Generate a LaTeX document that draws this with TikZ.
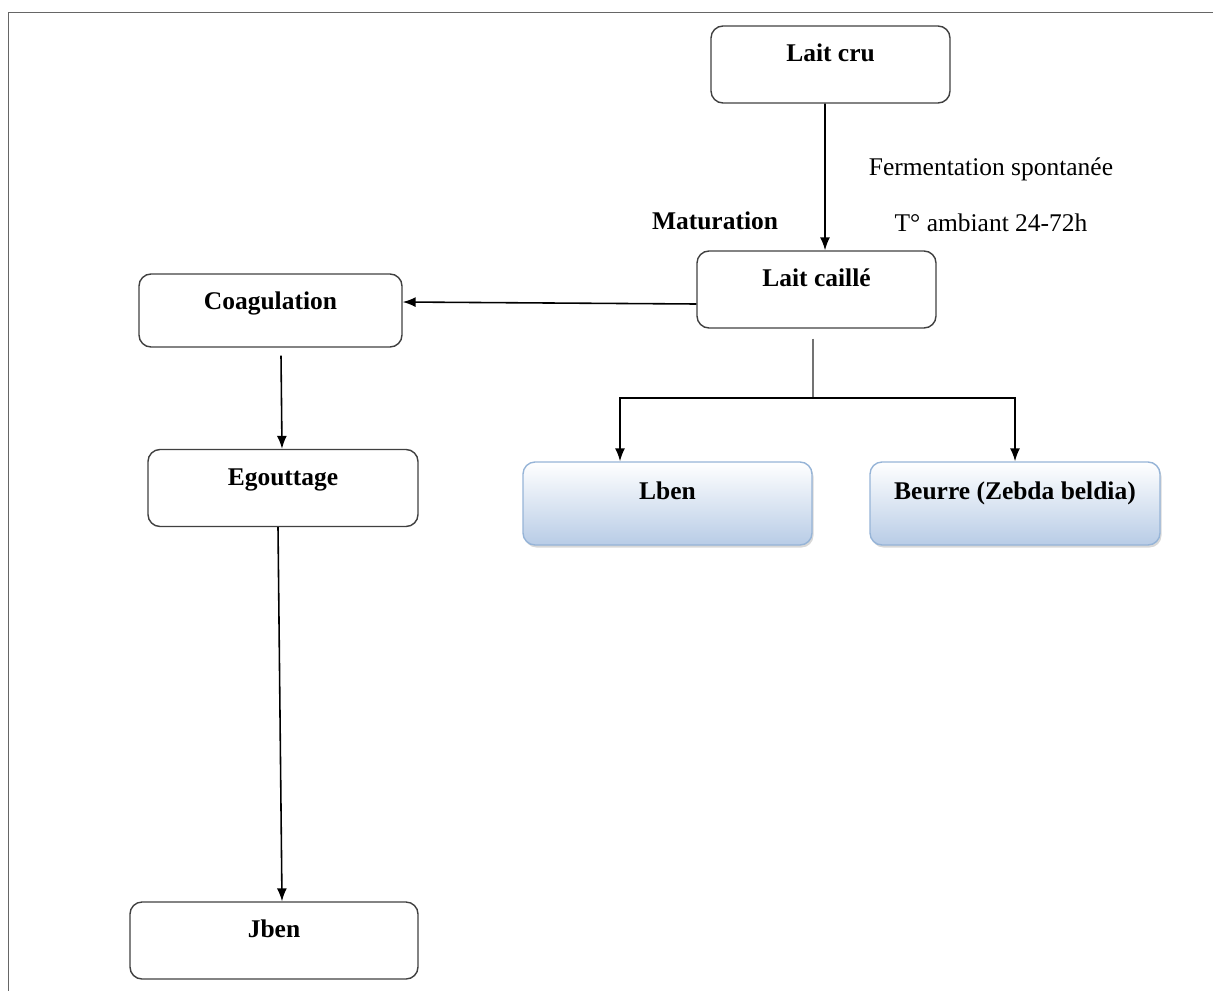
\documentclass[tikz,border=0pt]{standalone}
\usepackage{fontspec}
\setmainfont{Liberation Serif}
\usetikzlibrary{arrows.meta,shadows}
\begin{document}
\begin{tikzpicture}[line width=0.9pt,
    font=\fontsize{14.5}{17}\selectfont,
    etape/.style={draw=black!75,line width=0.8pt,rounded corners=0.24cm,inner sep=0pt,
        text height=0.71cm,text depth=0.83cm,font=\fontsize{14.5}{17}\selectfont\bfseries},
    produit/.style={draw={rgb,255:red,150;green,180;blue,215},line width=0.8pt,rounded corners=0.24cm,
        inner sep=0pt,text height=0.75cm,text depth=0.91cm,
        top color=white,bottom color={rgb,255:red,184;green,204;blue,230},
        drop shadow={shadow xshift=0.03cm,shadow yshift=-0.05cm,fill=black!30},
        font=\fontsize{14.5}{17}\selectfont\bfseries},
    fleche/.style={-{Latex[length=2.6mm,width=2mm]}} ]
    \useasboundingbox (0,0) rectangle (24.26,-19.8);
    \draw [black!60,line width=1pt] (0.17,-0.25) rectangle (24.6,-20.2);
    \node at (16.61,-1.29) [etape,minimum width=4.78cm] (laitcru) {Lait cru};
    \node at (16.33,-5.79) [etape,minimum width=4.78cm] (caille) {Lait caillé};
    \node at (5.41,-6.21) [etape,minimum width=5.26cm,text depth=0.75cm] (coag) {Coagulation};
    \node at (5.66,-9.76) [etape,minimum width=5.40cm] (egout) {Egouttage};
    \node at (5.48,-18.81) [etape,minimum width=5.76cm] (jben) {Jben};
    \node at (13.35,-10.07) [produit,minimum width=5.78cm] (lben) {Lben};
    \node at (20.30,-10.07) [produit,minimum width=5.80cm] (beurre) {Beurre (Zebda beldia)};
    \node at (19.82,-3.38) (ferm) {Fermentation spontanée};
    \node at (19.82,-4.46) (temp) {T° ambiant 24-72h};
    \node at (14.30,-4.42) [font=\fontsize{14.5}{17}\selectfont\bfseries] (matur) {Maturation};
    \coordinate (branche) at (16.26,-7.96);
    \draw [fleche] ([xshift=-0.11cm]laitcru.south) to ([xshift=0.17cm]caille.north);
    \draw [fleche] ([yshift=-0.29cm]caille.west) to ([yshift=0.17cm]coag.east);
    \draw [fleche] ([shift={(0.21,-0.16)}]coag.south) to ([xshift=-0.02cm]egout.north);
    \draw [fleche] ([xshift=-0.10cm]egout.south) to ([xshift=0.16cm]jben.north);
    \draw [black!55] ([shift={(-0.07,-0.2)}]caille.south) to (branche);
    \draw [fleche] (branche) -| ([xshift=-0.95cm]lben.north);
    \draw [fleche] (branche) -| (beurre.north);
    \end{tikzpicture}
\end{document}
